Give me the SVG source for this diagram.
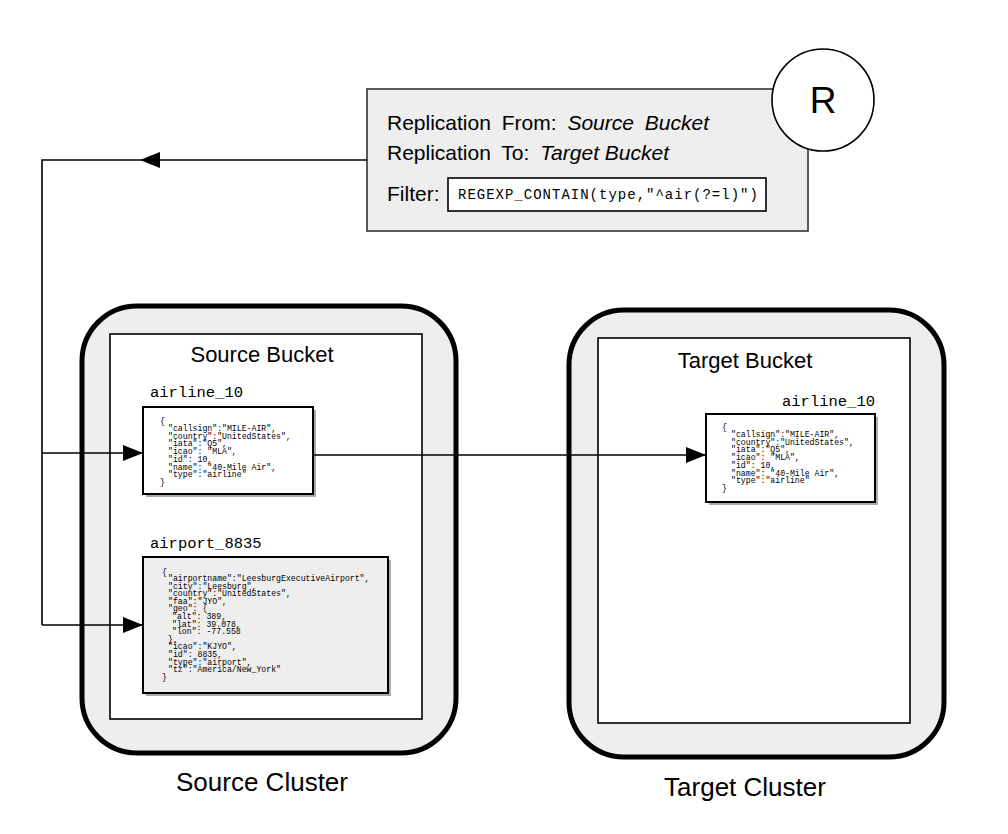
<svg xmlns="http://www.w3.org/2000/svg" width="1008" height="834" viewBox="0 0 1008 834">
<defs>
<marker id="arr" markerWidth="20" markerHeight="16" refX="20" refY="8" orient="auto" markerUnits="userSpaceOnUse">
<path d="M0,0 L20,8 L0,16 Z" fill="#000"/>
</marker>
</defs>
<style>
.cluster{fill:#eeeeee;stroke:#000;stroke-width:5}
.bucket{fill:#fff;stroke:#000;stroke-width:1.6}
.doc{stroke:#000;stroke-width:2}
.shadow{fill:#888;opacity:0.7}
.sans{font-family:"Liberation Sans",Arial,sans-serif;fill:#000}
.mono{font-family:"Liberation Mono","Courier New",monospace;fill:#000}
.json{font-family:"Liberation Mono","Courier New",monospace;font-size:8.2px;fill:#000}
.conn{fill:none;stroke:#000;stroke-width:1.6}
</style>
<rect width="1008" height="834" fill="#fff"/>

<g id="source-cluster">
<rect class="cluster" x="82" y="306" width="374" height="447" rx="55" ry="55"/>
<text class="sans" x="262" y="791" font-size="26" text-anchor="middle">Source Cluster</text>
</g>
<g id="source-bucket">
<rect class="bucket" x="110" y="334" width="312" height="385"/>
<text class="sans" x="262" y="362" font-size="22" text-anchor="middle">Source Bucket</text>
</g>

<g id="target-cluster">
<rect class="cluster" x="569" y="310" width="375" height="447" rx="55" ry="55"/>
<text class="sans" x="745" y="796" font-size="26" text-anchor="middle">Target Cluster</text>
</g>
<g id="target-bucket">
<rect class="bucket" x="598" y="338" width="312" height="385"/>
<text class="sans" x="745" y="368" font-size="22" text-anchor="middle">Target Bucket</text>
</g>

<g id="replication">
<rect x="367" y="89" width="441" height="142" fill="#eeeeee" stroke="#333" stroke-width="1.6"/>
<text class="sans" x="387" y="130" font-size="21" word-spacing="5">Replication From: <tspan font-style="italic">Source Bucket</tspan></text>
<text class="sans" x="387" y="160" font-size="21" word-spacing="5">Replication To: <tspan font-style="italic" word-spacing="0">Target Bucket</tspan></text>
<text class="sans" x="387" y="201" font-size="21">Filter:</text>
<rect x="448" y="178" width="318" height="33" fill="#fff" stroke="#000" stroke-width="1.6"/>
<text class="mono" x="458" y="199" font-size="14" letter-spacing="1">REGEXP_CONTAIN(type,"^air(?=l)")</text>
</g>
<g id="replicator">
<circle cx="823" cy="100" r="51" fill="#fff" stroke="#000" stroke-width="1.6"/>
<text class="sans" x="823" y="113" font-size="37" text-anchor="middle">R</text>
</g>

<g id="doc-airline-source">
<text class="mono" x="150" y="397" font-size="15.5">airline_10</text>
<rect class="shadow" x="146" y="410" width="170" height="87"/>
<rect class="doc" x="143" y="407" width="170" height="87" fill="#fff"/>
<text class="json" x="160" y="424">{</text>
<text class="json" x="168" y="431">"callsign":"MILE-AIR",</text>
<text class="json" x="168" y="438.7">"country":"UnitedStates",</text>
<text class="json" x="168" y="446.4">"iata":"Q5",</text>
<text class="json" x="168" y="454.1">"icao": "MLA",</text>
<text class="json" x="168" y="461.8">"id": 10,</text>
<text class="json" x="168" y="469.5">"name": "40-Mile Air",</text>
<text class="json" x="168" y="477.2">"type":"airline"</text>
<text class="json" x="160" y="485">}</text>
</g>

<g id="doc-airport-source">
<text class="mono" x="150" y="548" font-size="15.5">airport_8835</text>
<rect class="shadow" x="146" y="560" width="245" height="136"/>
<rect class="doc" x="143" y="557" width="245" height="136" fill="#eeeeee"/>
<text class="json" x="162" y="575">{</text>
<text class="json" x="168" y="581">"airportname":"LeesburgExecutiveAirport",</text>
<text class="json" x="168" y="588.6">"city":"Leesburg",</text>
<text class="json" x="168" y="596.2">"country":"UnitedStates",</text>
<text class="json" x="168" y="603.8">"faa":"JYO",</text>
<text class="json" x="168" y="611.4">"geo": {</text>
<text class="json" x="172" y="619">"alt": 389,</text>
<text class="json" x="172" y="626.6">"lat": 39.078,</text>
<text class="json" x="172" y="634.2">"lon": -77.558</text>
<text class="json" x="168" y="641.8">},</text>
<text class="json" x="168" y="649.4">"icao":"KJYO",</text>
<text class="json" x="168" y="657">"id": 8835,</text>
<text class="json" x="168" y="664.6">"type":"airport",</text>
<text class="json" x="168" y="672.2">"tz":"America/New_York"</text>
<text class="json" x="162" y="680">}</text>
</g>

<g id="doc-airline-target">
<text class="mono" x="875" y="406" font-size="15.5" text-anchor="end">airline_10</text>
<rect class="shadow" x="709" y="417" width="169" height="88"/>
<rect class="doc" x="706" y="414" width="169" height="88" fill="#fff"/>
<text class="json" x="722" y="430">{</text>
<text class="json" x="731" y="437">"callsign":"MILE-AIR",</text>
<text class="json" x="731" y="444.7">"country":"UnitedStates",</text>
<text class="json" x="731" y="452.4">"iata":"Q5",</text>
<text class="json" x="731" y="460.1">"icao": "MLA",</text>
<text class="json" x="731" y="467.8">"id": 10,</text>
<text class="json" x="731" y="475.5">"name": "40-Mile Air",</text>
<text class="json" x="731" y="483.2">"type":"airline"</text>
<text class="json" x="722" y="491">}</text>
</g>

<g id="connectors">
<path class="conn" d="M367,160 L140,160" marker-end="url(#arr)"/>
<path class="conn" d="M140,160 L42,160 L42,625"/>
<path class="conn" d="M42,453 L143,453" marker-end="url(#arr)"/>
<path class="conn" d="M42,625 L143,625" marker-end="url(#arr)"/>
<path class="conn" d="M313,455 L706,455" marker-end="url(#arr)"/>
</g>
</svg>
